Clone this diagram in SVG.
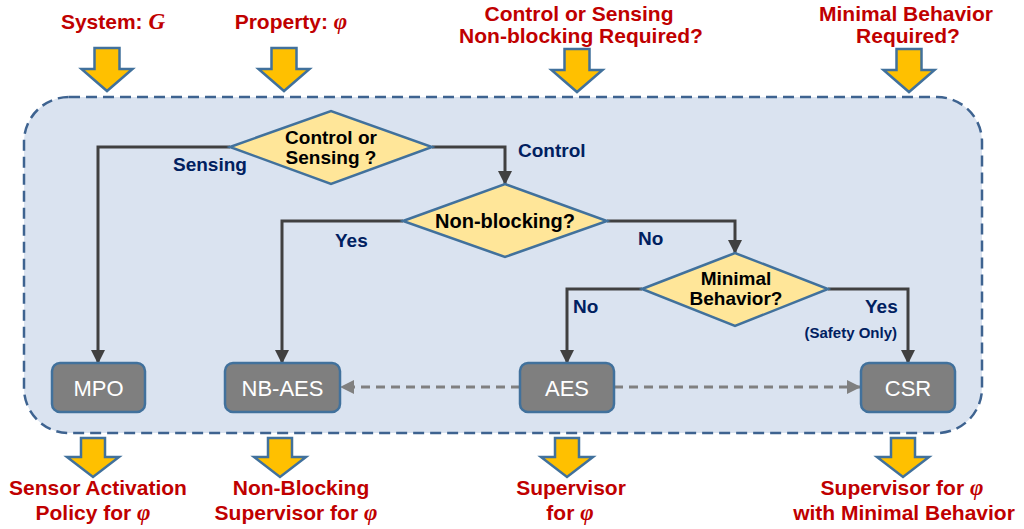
<svg xmlns="http://www.w3.org/2000/svg" width="1024" height="529" viewBox="0 0 1024 529">
<style>
.red{font-family:"Liberation Sans",Arial,sans-serif;font-weight:bold;font-size:21px;fill:#c00000;text-anchor:middle}
.sym{font-family:"Liberation Serif","DejaVu Serif",serif;font-style:italic;font-weight:bold;font-size:23px}
.dia{fill:#ffe699;stroke:#41719c;stroke-width:2.5}
.dt{font-family:"Liberation Sans",Arial,sans-serif;font-weight:bold;font-size:19px;fill:#000;text-anchor:middle}
.box{fill:#7f7f7f;stroke:#41719c;stroke-width:2.5}
.bt{font-family:"Liberation Sans",Arial,sans-serif;font-size:22px;fill:#fff;text-anchor:middle}
.lbl{font-family:"Liberation Sans",Arial,sans-serif;font-weight:bold;font-size:19px;fill:#002060}
.conn{fill:none;stroke:#404040;stroke-width:3}
.dash{fill:none;stroke:#808080;stroke-width:3;stroke-dasharray:9 6}
.blk{fill:#ffc000;stroke:#41719c;stroke-width:2.5;stroke-linejoin:miter}
</style>
<defs>
<marker id="ah" markerWidth="14" markerHeight="14" viewBox="0 0 14 14" refX="13" refY="7" orient="auto" markerUnits="userSpaceOnUse">
<path d="M0,0 L14,7 L0,14 Z" fill="#404040"/>
</marker>
<marker id="ahg" markerWidth="14" markerHeight="14" viewBox="0 0 14 14" refX="13" refY="7" orient="auto" markerUnits="userSpaceOnUse">
<path d="M0,0 L14,7 L0,14 Z" fill="#808080"/>
</marker>
<path id="inArrow" d="M-12.5,0 H12.5 V21 H25.5 L0,43 L-25.5,21 H-12.5 Z"/>
<path id="outArrow" d="M-12,0 H12 V19 H26 L0,39 L-26,19 H-12 Z"/>
</defs>

<rect id="container" x="24" y="97" width="958" height="336" rx="45" ry="45" fill="#dae3f0" stroke="#3e6390" stroke-width="2.5" stroke-dasharray="11 6"/>

<g id="inputs">
<text class="red" x="113" y="29">System: <tspan class="sym">G</tspan></text>
<use href="#inArrow" class="blk" x="107" y="48"/>
<text class="red" x="291" y="29">Property: <tspan class="sym">φ</tspan></text>
<use href="#inArrow" class="blk" x="284" y="48"/>
<text class="red" x="579" y="21">Control or Sensing</text>
<text class="red" x="581" y="43">Non-blocking Required?</text>
<use href="#inArrow" class="blk" x="577" y="49"/>
<text class="red" x="906" y="21">Minimal Behavior</text>
<text class="red" x="908" y="43">Required?</text>
<use href="#inArrow" class="blk" x="909" y="49"/>
</g>

<g id="connectors">
<polyline class="conn" points="230,147 98,147 98,363" marker-end="url(#ah)"/>
<polyline class="conn" points="432,147 505,147 505,184" marker-end="url(#ah)"/>
<polyline class="conn" points="403,221 282,221 282,363" marker-end="url(#ah)"/>
<polyline class="conn" points="607,221 735,221 735,253" marker-end="url(#ah)"/>
<polyline class="conn" points="642,289 567,289 567,363" marker-end="url(#ah)"/>
<polyline class="conn" points="828,289 908,289 908,363" marker-end="url(#ah)"/>
<line class="dash" x1="520" y1="387" x2="341" y2="387" marker-end="url(#ahg)"/>
<line class="dash" x1="614" y1="387" x2="860" y2="387" marker-end="url(#ahg)"/>
<text class="lbl" x="173" y="171">Sensing</text>
<text class="lbl" x="518" y="157">Control</text>
<text class="lbl" x="335" y="247">Yes</text>
<text class="lbl" x="638" y="245">No</text>
<text class="lbl" x="573" y="313">No</text>
<text class="lbl" x="865" y="313">Yes</text>
<text class="lbl" x="897" y="338" style="font-size:15px;text-anchor:end">(Safety Only)</text>
</g>

<g id="d1">
<polygon class="dia" points="230,147 331,111 432,147 331,184"/>
<text class="dt" x="331" y="144">Control or</text>
<text class="dt" x="331" y="164">Sensing ?</text>
</g>
<g id="d2">
<polygon class="dia" points="403,221 505,184 607,221 505,257"/>
<text class="dt" x="505" y="228" style="font-size:20px">Non-blocking?</text>
</g>
<g id="d3">
<polygon class="dia" points="642,289 735,253 828,289 735,326"/>
<text class="dt" x="736" y="285">Minimal</text>
<text class="dt" x="736" y="305">Behavior?</text>
</g>

<g id="mpo">
<rect class="box" x="52" y="363" width="93" height="49" rx="8"/>
<text class="bt" x="98.5" y="396">MPO</text>
</g>
<g id="nbaes">
<rect class="box" x="225" y="363" width="115" height="49" rx="8"/>
<text class="bt" x="282.5" y="396">NB-AES</text>
</g>
<g id="aes">
<rect class="box" x="520" y="363" width="94" height="49" rx="8"/>
<text class="bt" x="567" y="396">AES</text>
</g>
<g id="csr">
<rect class="box" x="861" y="363" width="94" height="49" rx="8"/>
<text class="bt" x="908" y="396">CSR</text>
</g>

<g id="outputs">
<use href="#outArrow" class="blk" x="93" y="438"/>
<use href="#outArrow" class="blk" x="280" y="438"/>
<use href="#outArrow" class="blk" x="567" y="438"/>
<use href="#outArrow" class="blk" x="903" y="438"/>
<text class="red" x="98" y="495">Sensor Activation</text>
<text class="red" x="93" y="520">Policy for <tspan class="sym">φ</tspan></text>
<text class="red" x="301" y="495">Non-Blocking</text>
<text class="red" x="296" y="520">Supervisor for <tspan class="sym">φ</tspan></text>
<text class="red" x="571" y="495">Supervisor</text>
<text class="red" x="570" y="520">for <tspan class="sym">φ</tspan></text>
<text class="red" x="902" y="495">Supervisor for <tspan class="sym">φ</tspan></text>
<text class="red" x="904" y="520">with Minimal Behavior</text>
</g>
</svg>
